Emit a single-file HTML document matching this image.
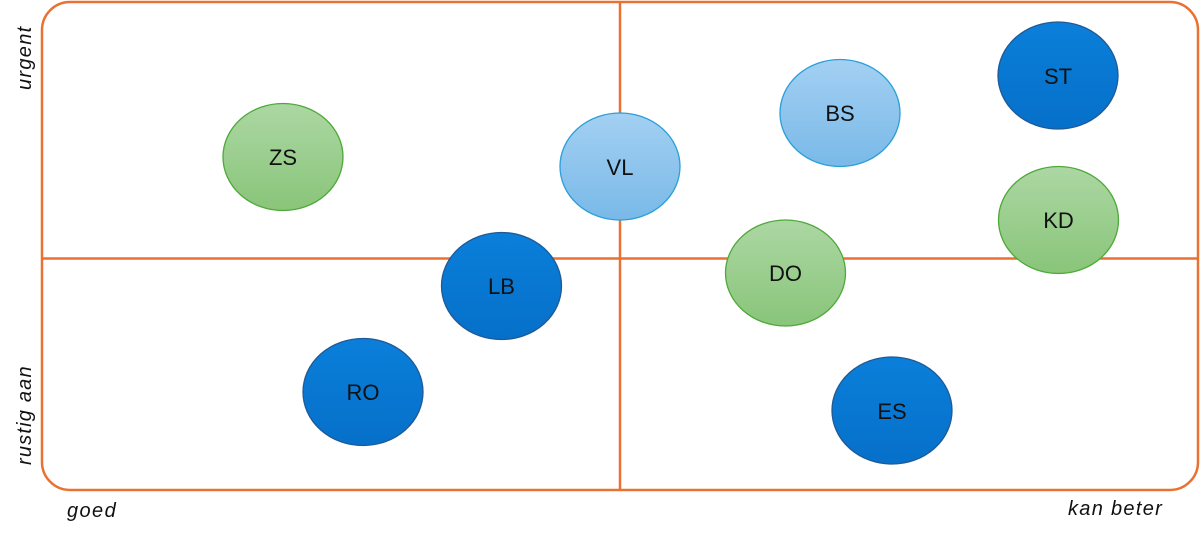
<!DOCTYPE html>
<html><head><meta charset="utf-8"><style>
html,body{margin:0;padding:0;background:#fff;}
svg{display:block;}
</style></head><body>
<svg width="1200" height="538" viewBox="0 0 1200 538" xmlns="http://www.w3.org/2000/svg">
<defs>
<linearGradient id="gd" x1="0" y1="0" x2="0" y2="1"><stop offset="0" stop-color="#0a7fda"/><stop offset="1" stop-color="#0670c9"/></linearGradient>
<linearGradient id="gl" x1="0" y1="0" x2="0" y2="1"><stop offset="0" stop-color="#a3d0f2"/><stop offset="1" stop-color="#79b9e8"/></linearGradient>
<linearGradient id="gg" x1="0" y1="0" x2="0" y2="1"><stop offset="0" stop-color="#acd7a3"/><stop offset="1" stop-color="#89c57a"/></linearGradient>
</defs>
<rect x="42" y="2" width="1156" height="488" rx="28" ry="28" fill="none" stroke="#e97132" stroke-width="2.5"/>
<line x1="42" y1="258.5" x2="1198" y2="258.5" stroke="#e97132" stroke-width="2.5"/>
<line x1="620" y1="2" x2="620" y2="490" stroke="#e97132" stroke-width="2.5"/>

<g font-family="'Liberation Sans', sans-serif" font-size="22" text-anchor="middle" fill="#111">
<ellipse cx="283" cy="157" rx="60" ry="53.5" fill="url(#gg)" stroke="#4ea93a" stroke-width="1.3"/>
<text x="283" y="165">ZS</text>
<ellipse cx="620" cy="166.5" rx="60" ry="53.5" fill="url(#gl)" stroke="#2a9fd8" stroke-width="1.3"/>
<text x="620" y="175">VL</text>
<ellipse cx="840" cy="113" rx="60" ry="53.5" fill="url(#gl)" stroke="#2a9fd8" stroke-width="1.3"/>
<text x="840" y="121">BS</text>
<ellipse cx="1058" cy="75.5" rx="60" ry="53.5" fill="url(#gd)" stroke="#1f5a96" stroke-width="1.3"/>
<text x="1058" y="84">ST</text>
<ellipse cx="1058.5" cy="220" rx="60" ry="53.5" fill="url(#gg)" stroke="#4ea93a" stroke-width="1.3"/>
<text x="1058.5" y="228">KD</text>
<ellipse cx="785.5" cy="273" rx="60" ry="53" fill="url(#gg)" stroke="#4ea93a" stroke-width="1.3"/>
<text x="785.5" y="281">DO</text>
<ellipse cx="501.5" cy="286" rx="60" ry="53.5" fill="url(#gd)" stroke="#1f5a96" stroke-width="1.3"/>
<text x="501.5" y="294">LB</text>
<ellipse cx="363" cy="392" rx="60" ry="53.5" fill="url(#gd)" stroke="#1f5a96" stroke-width="1.3"/>
<text x="363" y="400">RO</text>
<ellipse cx="892" cy="410.5" rx="60" ry="53.5" fill="url(#gd)" stroke="#1f5a96" stroke-width="1.3"/>
<text x="892" y="419">ES</text>
</g>

<g font-family="'Liberation Sans', sans-serif" font-size="20" font-style="italic" fill="#111">
<text x="67" y="517" letter-spacing="1.4">goed</text>
<text x="1068" y="515" letter-spacing="1.3">kan beter</text>
<text transform="translate(31,90) rotate(-90)" letter-spacing="1.3">urgent</text>
<text transform="translate(31,465) rotate(-90)" letter-spacing="1.2">rustig aan</text>
</g>
</svg>
</body></html>
